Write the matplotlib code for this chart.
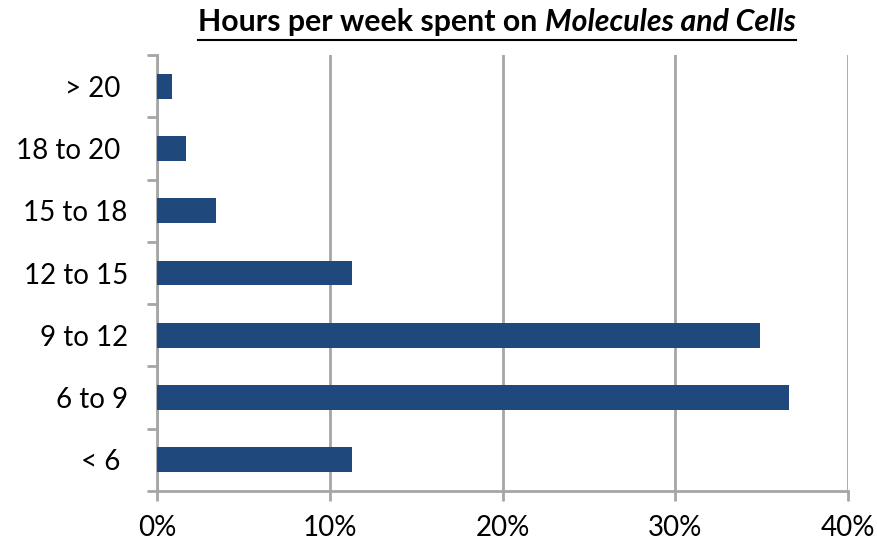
import matplotlib
matplotlib.use('Agg')
import matplotlib.pyplot as plt
from matplotlib.ticker import FixedLocator, PercentFormatter

# Share of students per weekly-hours bracket (bottom to top)
categories = ['< 6 ', '6 to 9', '9 to 12', '12 to 15', '15 to 18', '18 to 20 ', '> 20 ']
shares = [11.3, 36.6, 34.9, 11.3, 3.4, 1.7, 0.86]
x_ticks = [0, 10, 20, 30, 40]

bar_color = '#1F497D'
grid_color = '#a6a6a6'

plt.rcParams['font.family'] = ['Lato', 'DejaVu Sans']

fig = plt.figure(figsize=(8.78, 5.44), dpi=100)
ax = fig.add_axes([157 / 878, 1 - 491 / 544, (848 - 157) / 878, (491 - 55) / 544])

pos = list(range(len(categories)))
ax.barh(pos, shares, height=0.4, color=bar_color, zorder=3)

ax.set_xlim(0, 40)
ax.set_ylim(-0.5, len(categories) - 0.5)
ax.set_xticks(x_ticks)
ax.xaxis.set_major_formatter(PercentFormatter(decimals=0))
ax.grid(axis='x', color=grid_color, linewidth=2, zorder=0)

# category labels centred, tick marks on the boundaries
ax.set_yticks(pos)
ax.set_yticklabels(categories)
ax.yaxis.set_minor_locator(FixedLocator([p - 0.5 for p in range(len(categories) + 1)]))
ax.tick_params(axis='y', which='major', length=0, pad=21, labelsize=20)
ax.tick_params(axis='y', which='minor', length=7, width=2, color=grid_color)
ax.tick_params(axis='x', length=7, width=2, color=grid_color, labelsize=20, pad=10)

for s in ['top', 'right']:
    ax.spines[s].set_visible(False)
for s in ['left', 'bottom']:
    ax.spines[s].set_color(grid_color)
    ax.spines[s].set_linewidth(2)

# title: bold, second part italic, underlined
fig.canvas.draw()
r = fig.canvas.get_renderer()
t_y = 1 - 22 / 544
part1 = fig.text(0, t_y, 'Hours per week spent on ', fontsize=21.8, fontweight='bold', va='center')
part2 = fig.text(0, t_y, 'Molecules and Cells', fontsize=21.8, fontweight='bold', style='italic', va='center')
w1 = part1.get_window_extent(r).width
w2 = part2.get_window_extent(r).width
x0 = 497 - (w1 + w2) / 2
part1.set_x(x0 / 878)
part2.set_x((x0 + w1) / 878)
fig.add_artist(plt.Line2D([x0 / 878, (x0 + w1 + w2) / 878], [1 - 40 / 544] * 2,
                          color='black', linewidth=1.5))

fig.savefig('out.png', dpi=100)
